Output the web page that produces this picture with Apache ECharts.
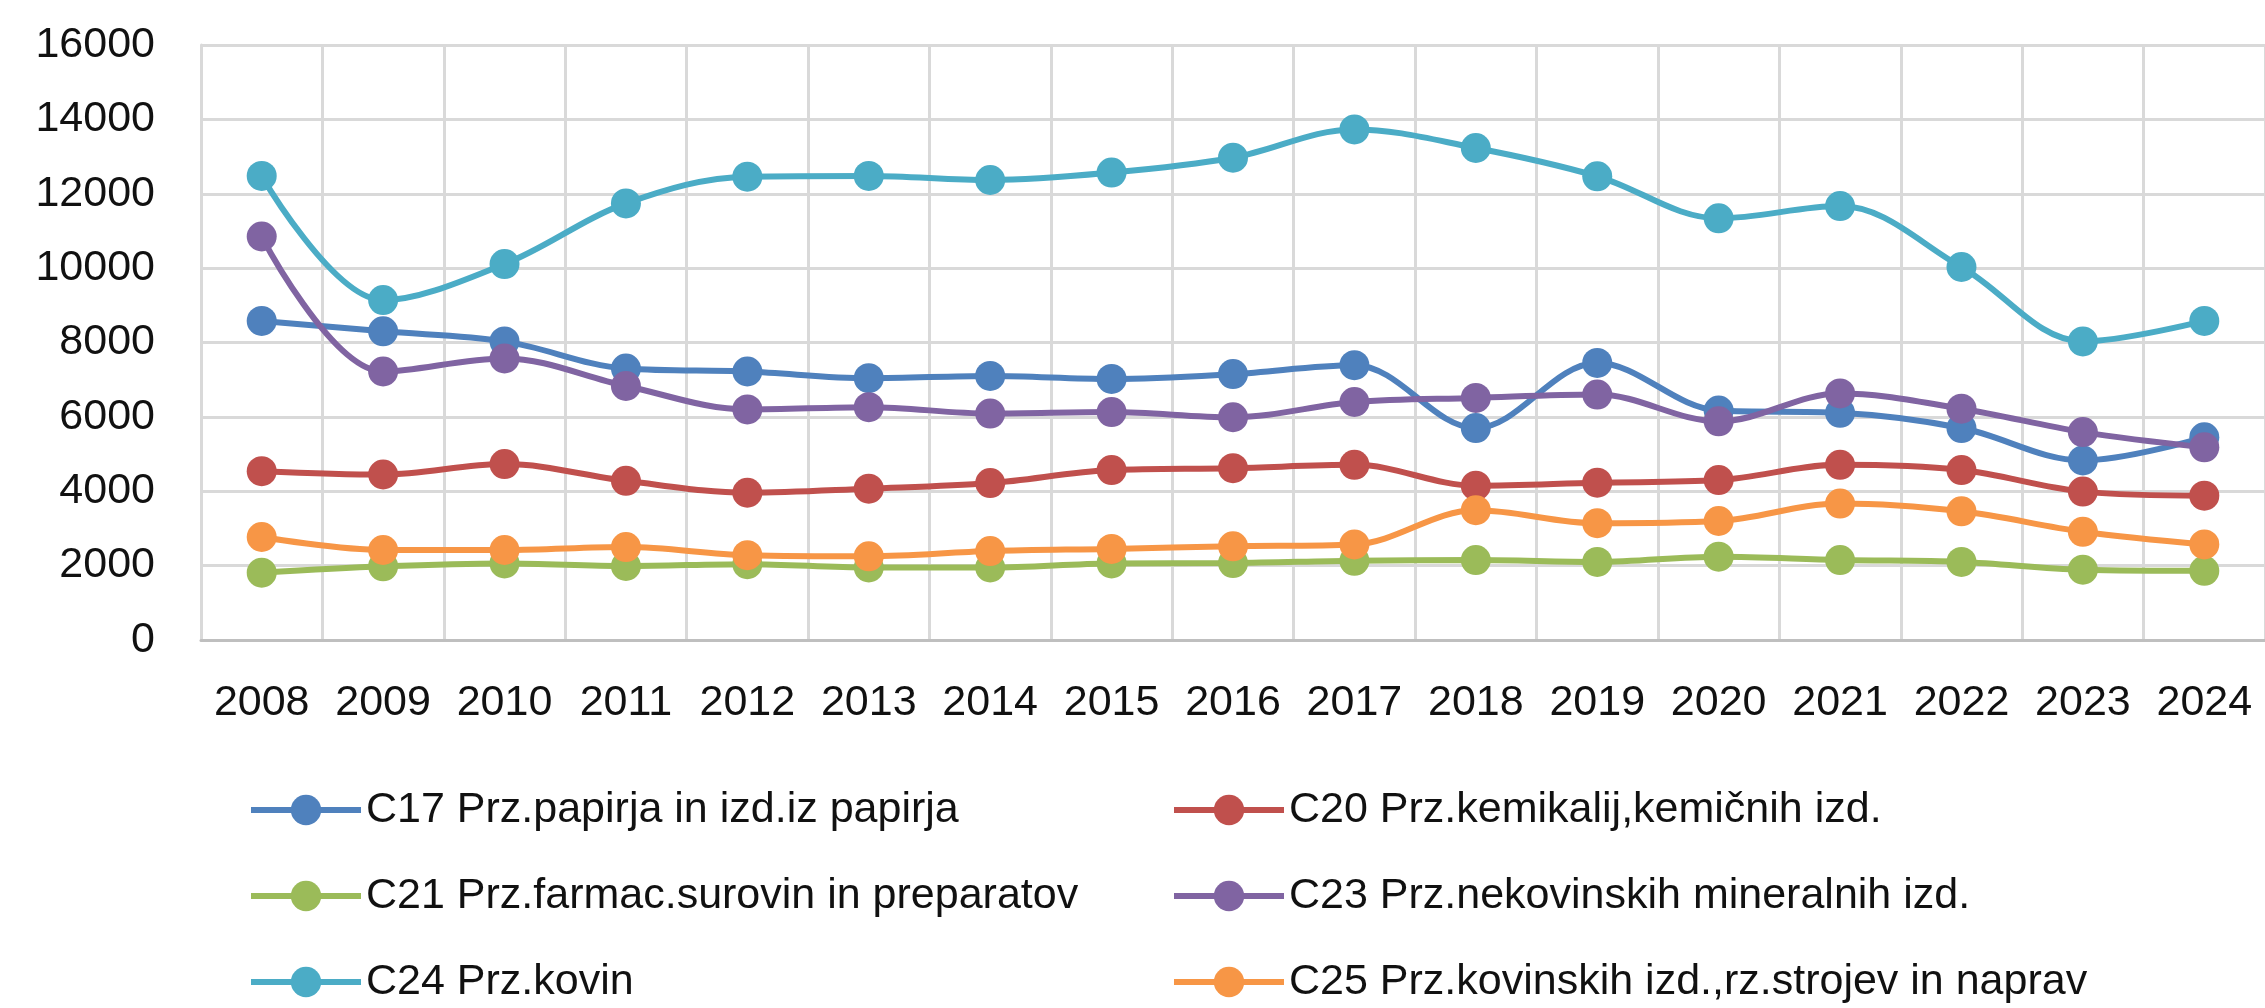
<!DOCTYPE html>
<html>
<head>
<meta charset="utf-8">
<script src="https://cdn.jsdelivr.net/npm/echarts@6/dist/echarts.min.js"></script>
<style>
    html, body { margin: 0; padding: 0; background: #fff; }
    #linechart { width: 2265px; height: 1008px; }
</style>
</head>
<body>
<div id="linechart"></div>
<script>
    // leta
    let years = ['2008', '2009', '2010', '2011', '2012', '2013', '2014', '2015', '2016',
        '2017', '2018', '2019', '2020', '2021', '2022', '2023', '2024']
    let yTicks = [0, 2000, 4000, 6000, 8000, 10000, 12000, 14000, 16000]

    let seriesNames = [
        'C17 Prz.papirja in izd.iz papirja',
        'C20 Prz.kemikalij,kemičnih izd.',
        'C21 Prz.farmac.surovin in preparatov',
        'C23 Prz.nekovinskih mineralnih izd.',
        'C24 Prz.kovin',
        'C25 Prz.kovinskih izd.,rz.strojev in naprav'
    ]
    let c17 = [8580, 8300, 8030, 7300, 7220, 7040, 7100, 7020, 7150, 7390, 5700, 7450, 6170, 6110, 5700, 4830, 5450]
    let c20 = [4540, 4450, 4730, 4280, 3960, 4070, 4220, 4570, 4620, 4710, 4150, 4230, 4300, 4710, 4570, 3990, 3880]
    let c21 = [1810, 1980, 2060, 1990, 2040, 1950, 1950, 2060, 2070, 2130, 2150, 2100, 2240, 2150, 2100, 1890, 1860]
    let c23 = [10850, 7220, 7570, 6830, 6200, 6260, 6090, 6130, 5990, 6400, 6510, 6600, 5880, 6630, 6220, 5590, 5180]
    let c24 = [12480, 9140, 10110, 11740, 12460, 12480, 12370, 12570, 12970, 13730, 13230, 12470, 11340, 11670, 10030, 8030, 8580]
    let c25 = [2770, 2420, 2420, 2500, 2280, 2250, 2390, 2450, 2520, 2570, 3490, 3140, 3200, 3670, 3460, 2910, 2570]

    let seriesData = [c17, c20, c21, c23, c24, c25]
    let colors = ['#4F81BD', '#C0504D', '#9BBB59', '#8064A2', '#4BACC6', '#F79646']

    let dom = document.getElementById('linechart')
    let myChart = echarts.init(dom)
    let font = 'Liberation Sans'

    let legendBase = {
        orient: 'vertical',
        top: 783,
        height: 300,
        itemWidth: 110,
        itemHeight: 38,
        itemGap: 42,
        lineStyle: { width: 6 },
        textStyle: {
            fontFamily: font,
            fontSize: 43,
            lineHeight: 44,
            color: '#111'
        }
    }

    myChart.setOption({
        animation: false,
        color: colors,
        grid: {
            left: 201,
            right: 0,
            top: 45,
            bottom: 368
        },
        legend: [
            Object.assign({}, legendBase, { left: 243, data: [seriesNames[0], seriesNames[2], seriesNames[4]] }),
            Object.assign({}, legendBase, { left: 1166, data: [seriesNames[1], seriesNames[3], seriesNames[5]] })
        ],
        xAxis: {
            type: 'category',
            data: years,
            boundaryGap: true,
            axisLine: { lineStyle: { color: '#BFBFBF', width: 3 } },
            axisTick: { show: false, interval: 0 },
            splitLine: { show: true, interval: 0, lineStyle: { color: '#D9D9D9', width: 3 } },
            axisLabel: {
                interval: 0,
                fontFamily: font,
                fontSize: 43,
                color: '#111',
                margin: 42
            }
        },
        yAxis: {
            type: 'value',
            min: yTicks[0],
            max: yTicks[yTicks.length - 1],
            interval: 2000,
            axisLine: { show: true, lineStyle: { color: '#D9D9D9', width: 3 } },
            axisTick: { show: false },
            splitLine: { lineStyle: { color: '#D9D9D9', width: 3 } },
            axisLabel: {
                formatter: v => String(v),
                fontFamily: font,
                fontSize: 43,
                color: '#111',
                margin: 46
            }
        },
        series: seriesNames.map((name, i) => {
            return {
                name: name,
                type: 'line',
                data: seriesData[i],
                smooth: 0.35,
                symbol: 'circle',
                symbolSize: 30,
                lineStyle: { width: 6, color: colors[i] },
                itemStyle: { color: colors[i] }
            }
        })
    })
</script>
</body>
</html>
